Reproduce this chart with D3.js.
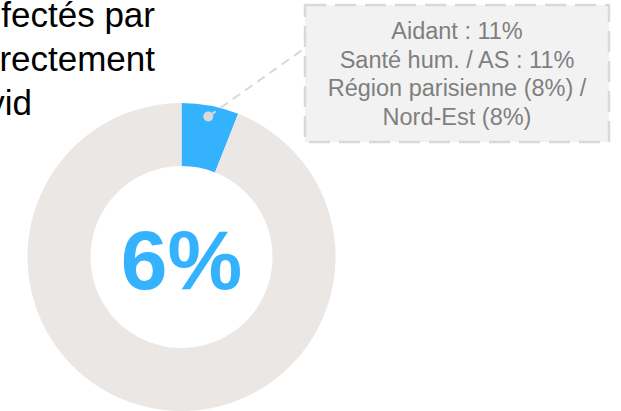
<!DOCTYPE html>
<html>
<head>
<meta charset="utf-8">
<script src="https://cdn.jsdelivr.net/npm/d3@7"></script>
<style>
html, body { margin: 0; padding: 0; background: #fff; }
svg { display: block; font-family: "Liberation Sans", Arial, sans-serif; }
</style>
</head>
<body>
<div id="chart"></div>
<script>
// share of the donut: highlighted part, rest
var sliceNames = ["affectés", "autres"];
var sliceValues = [6, 94];
var centerLabel = "6%";
var titleLines = ["fectés par", "rectement", "vid"];
var calloutLines = ["Aidant : 11%", "Santé hum. / AS : 11%", "Région parisienne (8%) /", "Nord-Est (8%)"];

var width = 621;
var height = 411;
var cx = 181.5, cy = 257;
var outerR = 154, innerR = 91;
var colors = d3.scaleOrdinal().domain(sliceNames).range(["#35b2fd", "#ebe7e5"]);

var svg = d3.select("#chart").append("svg").attr("width", width).attr("height", height);

// title (cut at the left edge, as in the picture)
var titleX = [155, 155, 32];
svg.selectAll("text.title").data(titleLines).enter().append("text")
	.attr("class", "title")
	.attr("x", function(d, i) { return titleX[i]; })
	.attr("y", function(d, i) { return 27 + i * 44; })
	.attr("text-anchor", "end")
	.attr("font-size", 35)
	.attr("fill", "#000")
	.text(function(d) { return d; });

var pie = d3.pie().sort(null).value(function(d) { return d; });
var arcs = pie(sliceValues);
var arc = d3.arc().innerRadius(innerR).outerRadius(outerR);

var g = svg.append("g").attr("transform", "translate(" + cx + "," + cy + ")");
g.selectAll("path").data(arcs).enter().append("path")
	.attr("d", arc)
	.attr("fill", function(d, i) { return colors(sliceNames[i]); });

g.append("text")
	.attr("x", 0)
	.attr("y", 32)
	.attr("text-anchor", "middle")
	.attr("font-size", 84)
	.attr("font-weight", "bold")
	.attr("fill", "#35b2fd")
	.text(centerLabel);

// callout box
var box = { x: 305, y: 5, w: 304, h: 137 };
var dotArc = d3.arc().innerRadius(143).outerRadius(143);
var dot = dotArc.centroid(arcs[0]);

svg.append("line")
	.attr("x1", cx + dot[0]).attr("y1", cy + dot[1])
	.attr("x2", box.x).attr("y2", 48)
	.attr("stroke", "#d9d9d9")
	.attr("stroke-width", 2)
	.attr("stroke-dasharray", "9,6");

svg.append("circle")
	.attr("cx", cx + dot[0]).attr("cy", cy + dot[1])
	.attr("r", 5)
	.attr("fill", "#d9d9d9");

svg.append("rect")
	.attr("x", box.x).attr("y", box.y)
	.attr("width", box.w).attr("height", box.h)
	.attr("fill", "#f2f2f2")
	.attr("stroke", "#d9d9d9")
	.attr("stroke-width", 2.5)
	.attr("stroke-dasharray", "21,9");

svg.selectAll("text.callout").data(calloutLines).enter().append("text")
	.attr("class", "callout")
	.attr("x", box.x + box.w / 2)
	.attr("y", function(d, i) { return 39 + i * 28.7; })
	.attr("text-anchor", "middle")
	.attr("font-size", 23.5)
	.attr("fill", "#7f7f7f")
	.text(function(d) { return d; });
</script>
</body>
</html>
